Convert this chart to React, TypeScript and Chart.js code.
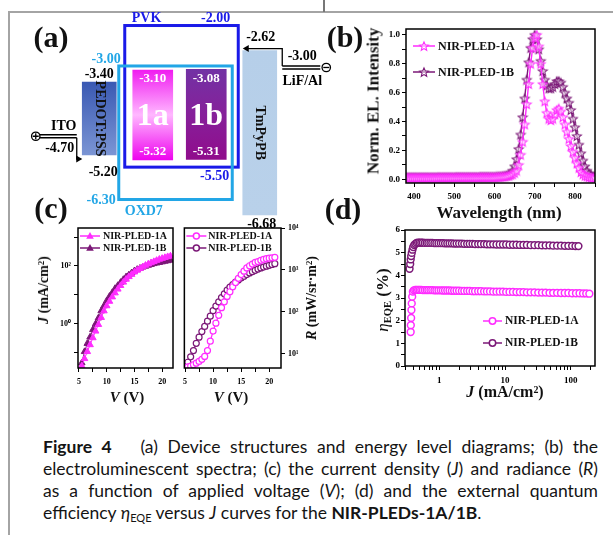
import React, { useEffect, useRef } from 'react';
import { Chart, registerables } from 'chart.js';

Chart.register(...registerables);

const SERIF = '"Liberation Serif", "Times New Roman", serif';
const MAG = '#ff2cff';
const PUR = '#7b1877';
const PVK_C = '#1a1ae8';
const OXD_C = '#22a6e6';

// ---------- (a) energy levels (eV) ----------
const layers = ['ITO', 'PEDOT:PSS', '1a', '1b', 'TmPyPB', 'LiF/Al'];
const transportLevels = [null, [-5.20, -3.40], null, null, [-6.68, -2.62], null];
const emitterLevels = [null, null, [-5.32, -3.10], [-5.31, -3.08], null, null];
const pvkLevels = [-5.50, -2.00];
const oxd7Levels = [-6.30, -3.00];
const electrodeLevels = [-4.70, -3.00]; // ITO, LiF/Al

// ---------- (b) EL spectra ----------
const wavelength = [380, 385, 390, 395, 400, 405, 410, 415, 420, 425, 430, 435, 440, 445, 450, 455, 460, 465, 470, 475, 480, 485, 490, 495, 500, 505, 510, 515, 520, 525, 530, 535, 540, 545, 550, 555, 560, 565, 570, 575, 580, 585, 590, 595, 600, 605, 610, 615, 620, 625, 630, 635, 640, 645, 650, 655, 660, 665, 670, 675, 680, 685, 690, 695, 700, 705, 710, 715, 720, 725, 730, 735, 740, 745, 750, 755, 760, 765, 770, 775, 780, 785, 790, 795, 800, 805, 810, 815, 820, 825, 830, 835, 840, 845, 850];
const el1A = [
  0.012, 0.012, 0.012, 0.012, 0.012, 0.012, 0.012, 0.012, 0.012, 0.012, 0.012, 0.012, 0.012, 0.012, 0.012, 0.012,
  0.013, 0.013, 0.013, 0.013, 0.013, 0.013, 0.013, 0.013, 0.013,
  0.014, 0.014, 0.014, 0.014, 0.014, 0.014, 0.014, 0.014, 0.014, 0.014, 0.014, 0.014,
  0.015, 0.015, 0.015, 0.015, 0.015, 0.015, 0.015, 0.015,
  0.016, 0.017, 0.018, 0.019, 0.02, 0.022, 0.025,
  0.03, 0.035, 0.045, 0.06, 0.1, 0.17, 0.26, 0.38, 0.52, 0.66, 0.8, 0.91, 0.98, 1.0, 0.92, 0.8, 0.66, 0.54, 0.46, 0.42,
  0.41, 0.42, 0.45, 0.48, 0.49, 0.47, 0.43, 0.38, 0.33, 0.28, 0.23, 0.19, 0.15, 0.11, 0.08, 0.05, 0.035, 0.025, 0.02, 0.015,
  0.012, 0.011, 0.01,
];
const el1B = [
  0.014, 0.014, 0.014, 0.014, 0.014, 0.014, 0.014, 0.014, 0.014, 0.014, 0.014, 0.014, 0.014, 0.014, 0.014, 0.014,
  0.015, 0.015, 0.015, 0.015, 0.015, 0.015, 0.015, 0.015, 0.015,
  0.016, 0.016, 0.016, 0.016, 0.016, 0.016, 0.016, 0.016, 0.016, 0.016, 0.016, 0.016,
  0.018, 0.018, 0.018, 0.018, 0.018, 0.018, 0.018, 0.018,
  0.019, 0.02, 0.021, 0.023, 0.025, 0.028, 0.032,
  0.04, 0.06, 0.09, 0.14, 0.21, 0.31, 0.43, 0.56, 0.69, 0.81, 0.91, 0.97, 1.0, 0.97, 0.9, 0.82, 0.75, 0.69, 0.65, 0.63,
  0.63, 0.64, 0.66, 0.68, 0.68, 0.67, 0.64, 0.6, 0.56, 0.53, 0.48, 0.42, 0.36, 0.3, 0.24, 0.18, 0.13, 0.09, 0.06, 0.04,
  0.03, 0.02, 0.02,
];
const wlTicks = [400, 450, 500, 550, 600, 650, 700, 750, 800, 850];
const intensityTicks = [0, 0.1, 0.2, 0.3, 0.4, 0.5, 0.6, 0.7, 0.8, 0.9, 1.0];

// ---------- (c) J-V and R-V ----------
const voltJ = [5.5, 6, 6.5, 7, 7.5, 8, 8.5, 9, 9.5, 10, 10.5, 11, 11.5, 12, 12.5, 13, 13.5, 14, 14.5, 15, 15.5, 16, 16.5, 17, 17.5, 18, 18.5, 19, 19.5, 20, 20.5, 21, 21.5];
const j1A = [0.035, 0.063, 0.11, 0.19, 0.33, 0.56, 0.95, 1.66, 2.8, 4.2, 6.0, 8.5, 11.7, 15.8, 21, 27.5, 34.7, 42.7, 51, 61.7, 71, 81, 93, 105, 117, 129, 141, 155, 170, 182, 195, 209, 219];
const j1B = [0.045, 0.11, 0.21, 0.35, 0.63, 1.0, 1.6, 2.8, 4.2, 6.3, 8.9, 12, 16.6, 21, 27, 34, 42, 49, 58, 68, 76, 83, 91, 98, 105, 112, 120, 126, 132, 138, 145, 151, 158];
const voltR = [5.5, 6, 6.5, 7, 7.5, 8, 8.5, 9, 9.5, 10, 10.5, 11, 11.5, 12, 12.5, 13, 13.5, 14, 14.5, 15, 15.5, 16, 16.5, 17, 17.5, 18, 18.5, 19, 19.5, 20, 20.5, 21];
const r1A = [4.9, 5.1, 5.5, 6.0, 6.6, 7.4, 8.7, 12, 20, 35, 54, 83, 126, 174, 234, 302, 398, 501, 631, 776, 933, 1120, 1260, 1380, 1510, 1580, 1700, 1780, 1860, 1910, 1950, 2000];
const r1B = [6.3, 8.5, 12, 17.8, 25, 34, 45, 60, 79, 107, 138, 174, 219, 269, 331, 389, 447, 513, 575, 646, 708, 776, 851, 912, 977, 1050, 1120, 1170, 1230, 1290, 1350, 1410];
const voltTicks = [5, 7.5, 10, 12.5, 15, 17.5, 20];
const jTicks = [0.1, 1, 10, 100, 1000];
const rTicks = [10, 100, 1000, 10000];

// ---------- (d) EQE-J ----------
const eqeJ1A = [0.366, 0.368, 0.372, 0.376, 0.38, 0.386, 0.395, 0.41, 0.43, 0.45, 0.475, 0.5, 0.53, 0.56, 0.6, 0.64, 0.68, 0.73, 0.78, 0.84, 0.9, 0.97, 1.05, 1.13, 1.22, 1.32, 1.43, 1.55, 1.68, 1.83, 2.0, 2.2, 2.4, 2.65, 2.9, 3.2, 3.5, 3.9, 4.3, 4.8, 5.3, 5.9, 6.6, 7.4, 8.3, 9.3, 10.4, 11.7, 13.2, 14.9, 16.8, 19, 21.5, 24.5, 28, 32, 36.5, 41.5, 47.5, 54, 62, 71, 81, 92, 105, 120, 136, 154, 172, 192];
const eqe1A = [1.5, 1.8, 2.12, 2.47, 2.76, 3.06, 3.28, 3.34, 3.36, 3.36, 3.36, 3.36, 3.36, 3.35, 3.35, 3.35, 3.35, 3.35, 3.35, 3.34, 3.34, 3.34, 3.34, 3.33, 3.33, 3.33, 3.33, 3.32, 3.32, 3.32, 3.32, 3.31, 3.31, 3.31, 3.31, 3.30, 3.30, 3.30, 3.30, 3.29, 3.29, 3.29, 3.28, 3.28, 3.28, 3.28, 3.27, 3.27, 3.27, 3.26, 3.26, 3.26, 3.25, 3.25, 3.25, 3.24, 3.24, 3.24, 3.23, 3.23, 3.23, 3.22, 3.22, 3.22, 3.21, 3.21, 3.21, 3.20, 3.20, 3.19];
const eqeJ1B = [0.352, 0.36, 0.366, 0.372, 0.38, 0.39, 0.40, 0.415, 0.43, 0.45, 0.475, 0.5, 0.53, 0.56, 0.6, 0.64, 0.68, 0.73, 0.78, 0.84, 0.9, 0.97, 1.05, 1.13, 1.22, 1.32, 1.43, 1.55, 1.68, 1.83, 2.0, 2.2, 2.4, 2.65, 2.9, 3.2, 3.5, 3.9, 4.3, 4.8, 5.3, 5.9, 6.6, 7.4, 8.3, 9.3, 10.4, 11.7, 13.2, 14.9, 16.8, 19, 21.5, 24.5, 28, 32, 36.5, 41.5, 47.5, 54, 62, 71, 81, 92, 105, 118, 131];
const eqe1B = [4.29, 4.5, 4.7, 4.85, 4.99, 5.13, 5.25, 5.34, 5.39, 5.43, 5.44, 5.44, 5.44, 5.44, 5.43, 5.43, 5.43, 5.43, 5.43, 5.42, 5.42, 5.42, 5.42, 5.42, 5.41, 5.41, 5.41, 5.41, 5.40, 5.40, 5.40, 5.40, 5.39, 5.39, 5.39, 5.39, 5.38, 5.38, 5.38, 5.38, 5.37, 5.37, 5.37, 5.36, 5.36, 5.36, 5.36, 5.35, 5.35, 5.35, 5.34, 5.34, 5.34, 5.33, 5.33, 5.33, 5.32, 5.32, 5.32, 5.31, 5.31, 5.31, 5.30, 5.30, 5.30, 5.29, 5.29];
const jLogTicks = [0.3, 0.4, 0.5, 0.6, 0.7, 0.8, 0.9, 1, 2, 3, 4, 5, 6, 7, 8, 9, 10, 20, 30, 40, 50, 60, 70, 80, 90, 100, 200];
const eqeTicks = [0, 0.5, 1, 1.5, 2, 2.5, 3, 3.5, 4, 4.5, 5, 5.5, 6];

const seriesNames = ['NIR-PLED-1A', 'NIR-PLED-1B'];

// ---------- helpers ----------
const starCache: Record<string, HTMLCanvasElement> = {};
function starImg(color: string): HTMLCanvasElement {
  if (starCache[color]) return starCache[color];
  const r = 4.6;
  const s = 12;
  const cv = document.createElement('canvas');
  cv.width = s; cv.height = s;
  const c = cv.getContext('2d')!;
  c.strokeStyle = color; c.lineWidth = 1.1; c.fillStyle = 'rgba(255,255,255,0.5)';
  c.beginPath();
  for (let i = 0; i < 10; i++) {
    const rad = i % 2 === 0 ? r : r * 0.45;
    const a = -Math.PI / 2 + (i * Math.PI) / 5;
    const x = s / 2 + rad * Math.cos(a);
    const y = s / 2 + 0.5 + rad * Math.sin(a);
    if (i === 0) c.moveTo(x, y); else c.lineTo(x, y);
  }
  c.closePath(); c.fill(); c.stroke();
  starCache[color] = cv;
  return cv;
}

function drawMarker(c: CanvasRenderingContext2D, kind: string, x: number, y: number, color: string, r: number) {
  c.save();
  if (kind === 'star') {
    const im = starImg(color);
    c.drawImage(im, x - im.width / 2, y - im.height / 2);
  } else if (kind === 'triangle') {
    c.fillStyle = color;
    c.beginPath();
    c.moveTo(x, y - r);
    c.lineTo(x + r * 0.95, y + r * 0.7);
    c.lineTo(x - r * 0.95, y + r * 0.7);
    c.closePath();
    c.fill();
  } else {
    c.fillStyle = '#fff'; c.strokeStyle = color; c.lineWidth = 1.5;
    c.beginPath(); c.arc(x, y, r, 0, Math.PI * 2); c.fill(); c.stroke();
  }
  c.restore();
}

const framePlugin = {
  id: 'frame',
  afterDraw(chart: any) {
    const a = chart.chartArea;
    const c = chart.ctx;
    c.save();
    c.strokeStyle = '#000';
    c.lineWidth = 1.5;
    c.strokeRect(a.left, a.top, a.right - a.left, a.bottom - a.top);
    c.restore();
  },
};

function legendPlugin(items: any[], o: any) {
  return {
    id: 'customLegend',
    afterDraw(chart: any) {
      const a = chart.chartArea;
      const c = chart.ctx as CanvasRenderingContext2D;
      c.save();
      items.forEach((it, k) => {
        const y = a.top + o.y + k * o.dy;
        const x0 = a.left + o.x;
        c.strokeStyle = it.color; c.lineWidth = o.lw;
        c.beginPath(); c.moveTo(x0, y); c.lineTo(x0 + o.len, y); c.stroke();
        drawMarker(c, it.marker, x0 + o.len / 2, y, it.color, o.r);
        c.font = o.font; c.fillStyle = '#111'; c.textAlign = 'left'; c.textBaseline = 'middle';
        c.fillText(it.label, x0 + o.len + o.gap, y + 0.5);
      });
      c.restore();
    },
  };
}

function axis(o: any) {
  return {
    type: o.type,
    min: o.min,
    max: o.max,
    position: o.position,
    border: { display: false },
    grid: { display: true, drawOnChartArea: false, drawTicks: true, tickLength: 4, tickWidth: 1, tickColor: '#000' },
    ticks: {
      color: '#000',
      autoSkip: false,
      maxRotation: 0,
      minRotation: 0,
      padding: o.pad,
      font: { family: SERIF, weight: 'bold', size: o.size },
      callback: (v: any) => o.label(Number(v)),
    },
    afterBuildTicks: (s: any) => { s.ticks = o.ticks.map((v: number) => ({ value: v })); },
    afterFit: (s: any) => {
      if (o.w !== undefined) s.width = o.w;
      if (o.h !== undefined) s.height = o.h;
    },
  };
}

const baseOptions = (padding: any) => ({
  animation: false,
  responsive: false,
  devicePixelRatio: 1,
  layout: { padding },
  plugins: { legend: { display: false }, tooltip: { enabled: false } },
});

// ---------- (a) chart ----------
const layerGradients: Record<string, [number, string][]> = {
  'PEDOT:PSS': [[0, '#3a59b3'], [1, '#7b95d4']],
  '1a': [[0, '#f01cf0'], [0.5, '#ffb8ff'], [1, '#ee04ee']],
  '1b': [[0, '#7232a4'], [0.5, '#86209a'], [1, '#900c8c']],
  'TmPyPB': [[0, '#b6cfe9'], [1, '#b9d1ea']],
};

const levelFill = (ctx: any) => {
  const chart = ctx.chart;
  const raw = ctx.raw;
  if (!chart.chartArea || !raw) return 'rgba(0,0,0,0)';
  const y = chart.scales.y;
  const t = y.getPixelForValue(raw[1]);
  const b = y.getPixelForValue(raw[0]);
  const g = chart.ctx.createLinearGradient(0, t, 0, b);
  (layerGradients[layers[ctx.dataIndex]] || []).forEach(([o, col]) => g.addColorStop(o, col));
  return g;
};

function text(c: CanvasRenderingContext2D, s: string, x: number, y: number, color: string, align: CanvasTextAlign = 'center', font = `bold 14px ${SERIF}`) {
  c.font = font; c.fillStyle = color; c.textAlign = align; c.textBaseline = 'middle';
  c.fillText(s, x, y);
}

function arrowHead(c: CanvasRenderingContext2D, x: number, y: number, dir: number) {
  c.beginPath();
  c.moveTo(x, y);
  c.lineTo(x - dir * 6, y - 3.5);
  c.lineTo(x - dir * 6, y + 3.5);
  c.closePath();
  c.fill();
}

const energyPlugin = {
  id: 'energy',
  afterDatasetsDraw(chart: any) {
    const c = chart.ctx as CanvasRenderingContext2D;
    const X = (i: number) => chart.scales.x.getPixelForValue(i);
    const Y = (e: number) => chart.scales.y.getPixelForValue(e);
    const iI = layers.indexOf('ITO');
    const iP = layers.indexOf('PEDOT:PSS');
    const iA = layers.indexOf('1a');
    const iB = layers.indexOf('1b');
    const iT = layers.indexOf('TmPyPB');
    const iC = layers.indexOf('LiF/Al');
    const f = (e: number) => e.toFixed(2);
    c.save();

    // host boxes
    const pvk = { l: X(iA) - 28, r: X(iB) + 32, t: Y(pvkLevels[1]), b: Y(pvkLevels[0]) };
    const oxd = { l: X(iA) - 34, r: X(iB) + 26, t: Y(oxd7Levels[1]), b: Y(oxd7Levels[0]) };
    c.lineWidth = 3;
    c.strokeStyle = PVK_C; c.strokeRect(pvk.l, pvk.t, pvk.r - pvk.l, pvk.b - pvk.t);
    c.strokeStyle = OXD_C; c.strokeRect(oxd.l, oxd.t, oxd.r - oxd.l, oxd.b - oxd.t);
    text(c, 'PVK', pvk.l + 7, pvk.t - 7, PVK_C, 'left');
    text(c, f(pvkLevels[1]), pvk.r - 8, pvk.t - 7, PVK_C, 'right');
    text(c, f(pvkLevels[0]), pvk.r - 9, pvk.b + 9, PVK_C, 'right');
    text(c, f(oxd7Levels[1]), oxd.l + 2, oxd.t - 7, OXD_C, 'right');
    text(c, f(oxd7Levels[0]), oxd.l - 3, oxd.b + 1, OXD_C, 'right');
    text(c, 'OXD7', oxd.l + 6, oxd.b + 12, OXD_C, 'left');

    // PEDOT:PSS
    const ped = transportLevels[iP] as number[];
    text(c, f(ped[1]), X(iP), Y(ped[1]) - 8, '#000');
    text(c, f(ped[0]), X(iP) + 4, Y(ped[0]) + 17, '#000');
    c.save();
    c.translate(X(iP), (Y(ped[0]) + Y(ped[1])) / 2);
    c.rotate(Math.PI / 2);
    text(c, 'PEDOT:PSS', 0, 0, '#111');
    c.restore();

    // TmPyPB
    const tm = transportLevels[iT] as number[];
    text(c, f(tm[1]), X(iT) + 1, Y(tm[1]) - 13, '#000');
    text(c, f(tm[0]), X(iT) + 2, Y(tm[0]) + 10, '#000');
    c.save();
    c.translate(X(iT), (Y(tm[0]) + Y(tm[1])) / 2);
    c.rotate(Math.PI / 2);
    text(c, 'TmPyPB', 0, 0, '#111');
    c.restore();

    // emitters
    [iA, iB].forEach((i) => {
      const lv = emitterLevels[i] as number[];
      const t = Y(lv[1]);
      const b = Y(lv[0]);
      text(c, f(lv[1]), X(i), t + 9, '#fff', 'center', `bold 13px ${SERIF}`);
      text(c, f(lv[0]), X(i), b - 8, '#fff', 'center', `bold 13px ${SERIF}`);
      text(c, layers[i], X(i), (t + b) / 2 + 2, '#fff', 'center', `bold 32px ${SERIF}`);
    });

    // ITO anode
    c.strokeStyle = '#000'; c.fillStyle = '#000'; c.lineWidth = 1.3;
    const yI = Y(electrodeLevels[0]);
    const iL = X(iI) - 6;
    const iR = X(iI) + 31;
    c.beginPath();
    c.moveTo(iL, yI); c.lineTo(iR, yI);
    c.moveTo(iL, yI + 3); c.lineTo(iR, yI + 3);
    c.stroke();
    c.beginPath(); c.arc(X(iI) - 10, yI + 1.5, 4.2, 0, Math.PI * 2); c.stroke();
    c.beginPath();
    c.moveTo(X(iI) - 13, yI + 1.5); c.lineTo(X(iI) - 7, yI + 1.5);
    c.moveTo(X(iI) - 10, yI - 1.5); c.lineTo(X(iI) - 10, yI + 4.5);
    c.stroke();
    text(c, 'ITO', X(iI) + 18, yI - 8, '#000');
    text(c, f(electrodeLevels[0]), X(iI) + 14, yI + 14, '#000');
    const yH = Y(ped[0]) + 4;
    const pedL = X(iP) - 17;
    c.beginPath(); c.moveTo(iR, yI + 3); c.lineTo(iR, yH); c.lineTo(pedL - 5, yH); c.stroke();
    arrowHead(c, pedL, yH, 1);

    // LiF/Al cathode
    const yC = Y(electrodeLevels[1]);
    const cL = X(iC) - 31;
    const cR = X(iC) + 7;
    c.beginPath();
    c.moveTo(cL, yC); c.lineTo(cR, yC);
    c.moveTo(cL, yC + 3); c.lineTo(cR, yC + 3);
    c.stroke();
    c.beginPath(); c.arc(X(iC) + 13, yC + 1.5, 4.2, 0, Math.PI * 2); c.stroke();
    c.beginPath(); c.moveTo(X(iC) + 10, yC + 1.5); c.lineTo(X(iC) + 16, yC + 1.5); c.stroke();
    text(c, f(electrodeLevels[1]), X(iC) - 11, yC - 10, '#000');
    text(c, 'LiF/Al', X(iC) - 11, yC + 15, '#000');
    const yL = Y(tm[1]) - 2;
    const tmL = X(iT) - 17;
    c.beginPath(); c.moveTo(cL, yC); c.lineTo(cL, yL); c.lineTo(tmL + 5, yL); c.stroke();
    arrowHead(c, tmL, yL, -1);

    c.restore();
  },
};

function makeEnergy() {
  return {
    type: 'bar',
    data: {
      labels: layers,
      datasets: [
        { data: transportLevels, grouped: false, barThickness: 34, backgroundColor: levelFill, borderWidth: 0 },
        { data: emitterLevels, grouped: false, barThickness: 40, backgroundColor: levelFill, borderWidth: 0 },
      ],
    },
    options: {
      ...baseOptions({ left: 19, top: 15, right: 5, bottom: 15 }),
      scales: {
        x: { display: false, offset: true },
        y: { display: false, min: -6.93, max: -1.74 },
      },
    },
    plugins: [energyPlugin],
  };
}

// ---------- (b) chart ----------
function makeSpectrum() {
  const ds = (name: string, ys: number[], color: string) => ({
    label: name,
    data: wavelength.map((x, i) => ({ x, y: ys[i] })),
    showLine: true,
    borderColor: color,
    borderWidth: 1.4,
    pointStyle: starImg(color),
    pointRadius: 4.5,
  });
  return {
    type: 'scatter',
    data: { datasets: [ds(seriesNames[0], el1A, MAG), ds(seriesNames[1], el1B, PUR)] },
    options: {
      ...baseOptions({ left: 0, top: 11, right: 18, bottom: 0 }),
      scales: {
        x: axis({ type: 'linear', min: 380, max: 850, ticks: wlTicks, size: 9, pad: 4, h: 45, label: (v: number) => (v % 100 === 0 && v < 850 ? String(v) : '') }),
        y: axis({ type: 'linear', min: -0.026, max: 1.04, ticks: intensityTicks, size: 9, pad: 2, w: 76, label: (v: number) => (Math.round(v * 10) % 2 === 0 ? v.toFixed(1) : '') }),
      },
    },
    plugins: [
      framePlugin,
      legendPlugin(
        [
          { label: seriesNames[0], color: MAG, marker: 'star' },
          { label: seriesNames[1], color: PUR, marker: 'star' },
        ],
        { x: 7, y: 17, dy: 26, len: 22, gap: 3, font: `bold 12px ${SERIF}`, r: 4, lw: 1.5 },
      ),
    ],
  };
}

// ---------- (c) charts ----------
const supLabel: Record<number, string> = { 0.1: '', 1: '10\u2070', 10: '10\u00b9', 100: '10\u00b2', 1000: '10\u00b3', 10000: '10\u2074' };

function makeJV() {
  const ds = (name: string, ys: number[], color: string) => ({
    label: name,
    data: voltJ.map((x, i) => ({ x, y: ys[i] })),
    showLine: true,
    borderColor: color,
    backgroundColor: color,
    borderWidth: 1,
    pointStyle: 'triangle',
    pointRadius: 3.8,
  });
  return {
    type: 'scatter',
    data: { datasets: [ds(seriesNames[0], j1A, MAG), ds(seriesNames[1], j1B, PUR)] },
    options: {
      ...baseOptions({ left: 0, top: 16, right: 4, bottom: 0 }),
      scales: {
        x: axis({ type: 'linear', min: 4.82, max: 21.96, ticks: voltTicks, size: 8, pad: 5, h: 42, label: (v: number) => (v % 5 === 0 ? String(v) : '') }),
        y: axis({ type: 'logarithmic', min: 0.03, max: 2050, ticks: jTicks, size: 8, pad: 3, w: 62, label: (v: number) => (v === 1 || v === 100 ? supLabel[v] : '') }),
      },
    },
    plugins: [
      framePlugin,
      legendPlugin(
        [
          { label: seriesNames[0], color: MAG, marker: 'triangle' },
          { label: seriesNames[1], color: PUR, marker: 'triangle' },
        ],
        { x: 2, y: 8, dy: 12, len: 20, gap: 3, font: `bold 10px ${SERIF}`, r: 4, lw: 1.5 },
      ),
    ],
  };
}

function makeRV() {
  const ds = (name: string, ys: number[], color: string) => ({
    label: name,
    data: voltR.map((x, i) => ({ x, y: ys[i] })),
    showLine: true,
    borderColor: color,
    backgroundColor: '#fff',
    borderWidth: 1.2,
    pointStyle: 'circle',
    pointRadius: 3,
  });
  return {
    type: 'scatter',
    data: { datasets: [ds(seriesNames[0], r1A, MAG), ds(seriesNames[1], r1B, PUR)] },
    options: {
      ...baseOptions({ left: 5, top: 16, right: 0, bottom: 0 }),
      scales: {
        x: axis({ type: 'linear', min: 4.88, max: 22.1, ticks: voltTicks, size: 8, pad: 5, h: 42, label: (v: number) => (v % 5 === 0 ? String(v) : '') }),
        y: axis({ type: 'logarithmic', position: 'right', min: 4.6, max: 10000, ticks: rTicks, size: 8, pad: 3, w: 37, label: (v: number) => supLabel[v] || '' }),
      },
    },
    plugins: [
      framePlugin,
      legendPlugin(
        [
          { label: seriesNames[0], color: MAG, marker: 'circle' },
          { label: seriesNames[1], color: PUR, marker: 'circle' },
        ],
        { x: 2, y: 8, dy: 12, len: 20, gap: 2, font: `bold 10px ${SERIF}`, r: 3, lw: 1.5 },
      ),
    ],
  };
}

// ---------- (d) chart ----------
function makeEQE() {
  const ds = (name: string, xs: number[], ys: number[], color: string) => ({
    label: name,
    data: xs.map((x, i) => ({ x, y: ys[i] })),
    showLine: true,
    borderColor: color,
    backgroundColor: '#fff',
    borderWidth: 1.5,
    pointStyle: 'circle',
    pointRadius: 3.4,
  });
  return {
    type: 'scatter',
    data: { datasets: [ds(seriesNames[0], eqeJ1A, eqe1A, MAG), ds(seriesNames[1], eqeJ1B, eqe1B, PUR)] },
    options: {
      ...baseOptions({ left: 0, top: 15, right: 18, bottom: 0 }),
      scales: {
        x: axis({ type: 'logarithmic', min: 0.3, max: 234, ticks: jLogTicks, size: 9, pad: 5, h: 44, label: (v: number) => (v === 1 || v === 10 || v === 100 ? String(v) : '') }),
        y: axis({ type: 'linear', min: 0, max: 6, ticks: eqeTicks, size: 9, pad: 1, w: 75, label: (v: number) => (Number.isInteger(v) ? String(v) : '') }),
      },
    },
    plugins: [
      framePlugin,
      legendPlugin(
        [
          { label: seriesNames[0], color: MAG, marker: 'circle' },
          { label: seriesNames[1], color: PUR, marker: 'circle' },
        ],
        { x: 78, y: 91, dy: 22, len: 19, gap: 3, font: `bold 11.5px ${SERIF}`, r: 3.2, lw: 1.5 },
      ),
    ],
  };
}

// ---------- React ----------
function ChartCanvas({ left, top, width, height, make }: any) {
  const ref = useRef<HTMLCanvasElement>(null);
  useEffect(() => {
    const chart = new Chart(ref.current as HTMLCanvasElement, make());
    return () => chart.destroy();
  }, []);
  return <canvas ref={ref} width={width} height={height} style={{ position: 'absolute', left, top, width, height }} />;
}

function Label({ x, y, size, rot, children, color = '#111', weight = 'bold' }: any) {
  return (
    <div
      style={{
        position: 'absolute',
        left: x,
        top: y,
        transform: `translate(-50%,-50%)${rot ? ' rotate(-90deg)' : ''}`,
        whiteSpace: 'nowrap',
        fontFamily: SERIF,
        fontWeight: weight,
        fontSize: size,
        lineHeight: 1,
        color,
      }}
    >
      {children}
    </div>
  );
}

const sup = { fontSize: '0.62em', position: 'relative' as const, top: '-0.45em', verticalAlign: 'baseline' };
const subS = { fontSize: '0.62em', position: 'relative' as const, top: '0.3em', verticalAlign: 'baseline' };
const just = { textAlign: 'justify' as const, textAlignLast: 'justify' as const };

export default function App() {
  return (
    <div style={{ position: 'fixed', left: 0, top: 0, width: 613, height: 535, background: '#fff', overflow: 'hidden' }}>
      <div style={{ position: 'absolute', left: 8, top: 11, right: -2, bottom: -2, borderTop: '2px solid #a4a4a4', borderLeft: '2px solid #a4a4a4' }} />
      <div style={{ position: 'absolute', left: 323, top: 0, width: 1.5, height: 12, background: '#777' }} />

      <ChartCanvas left={0} top={0} width={345} height={240} make={makeEnergy} />
      <ChartCanvas left={330} top={18} width={283} height={210} make={makeSpectrum} />
      <ChartCanvas left={16} top={212} width={162} height={198} make={makeJV} />
      <ChartCanvas left={178} top={212} width={140} height={198} make={makeRV} />
      <ChartCanvas left={330} top={215} width={283} height={195} make={makeEQE} />

      <Label x={51} y={37} size={30}>(a)</Label>
      <Label x={345} y={37} size={30}>(b)</Label>
      <Label x={51} y={208} size={30}>(c)</Label>
      <Label x={343} y={209} size={30}>(d)</Label>

      <Label x={373} y={101} size={17} rot>Norm. EL. Intensity</Label>
      <Label x={499} y={212} size={17}>Wavelength (nm)</Label>

      <Label x={44} y={290} size={14} rot><i>J</i> (mA/cm<span style={sup}>2</span>)</Label>
      <Label x={312} y={298} size={14} rot><i>R</i> (mW/sr·m<span style={sup}>2</span>)</Label>
      <Label x={127} y={397} size={15}><i>V</i> (V)</Label>
      <Label x={231} y={397} size={15}><i>V</i> (V)</Label>

      <Label x={382} y={300} size={17} rot><i style={{ fontWeight: 'normal' }}>η</i><span style={subS}>EQE</span> (%)</Label>
      <Label x={505} y={392} size={16}><i>J</i> (mA/cm<span style={sup}>2</span>)</Label>

      <div style={{ position: 'absolute', left: 43, top: 436, width: 555, fontFamily: 'Lato, "Open Sans", sans-serif', fontSize: 17.5, lineHeight: '22px', color: '#141414' }}>
        <div style={just}><b>Figure 4</b>&nbsp;&nbsp; (a) Device structures and energy level diagrams; (b) the</div>
        <div style={just}>electroluminescent spectra; (c) the current density (<i>J</i>) and radiance (<i>R</i>)</div>
        <div style={just}>as a function of applied voltage (<i>V</i>); (d) and the external quantum</div>
        <div>efficiency <i>η</i><span style={{ fontSize: 11, position: 'relative', top: 3 }}>EQE</span> versus <i>J</i> curves for the <b>NIR-PLEDs-1A/1B</b>.</div>
      </div>
    </div>
  );
}
